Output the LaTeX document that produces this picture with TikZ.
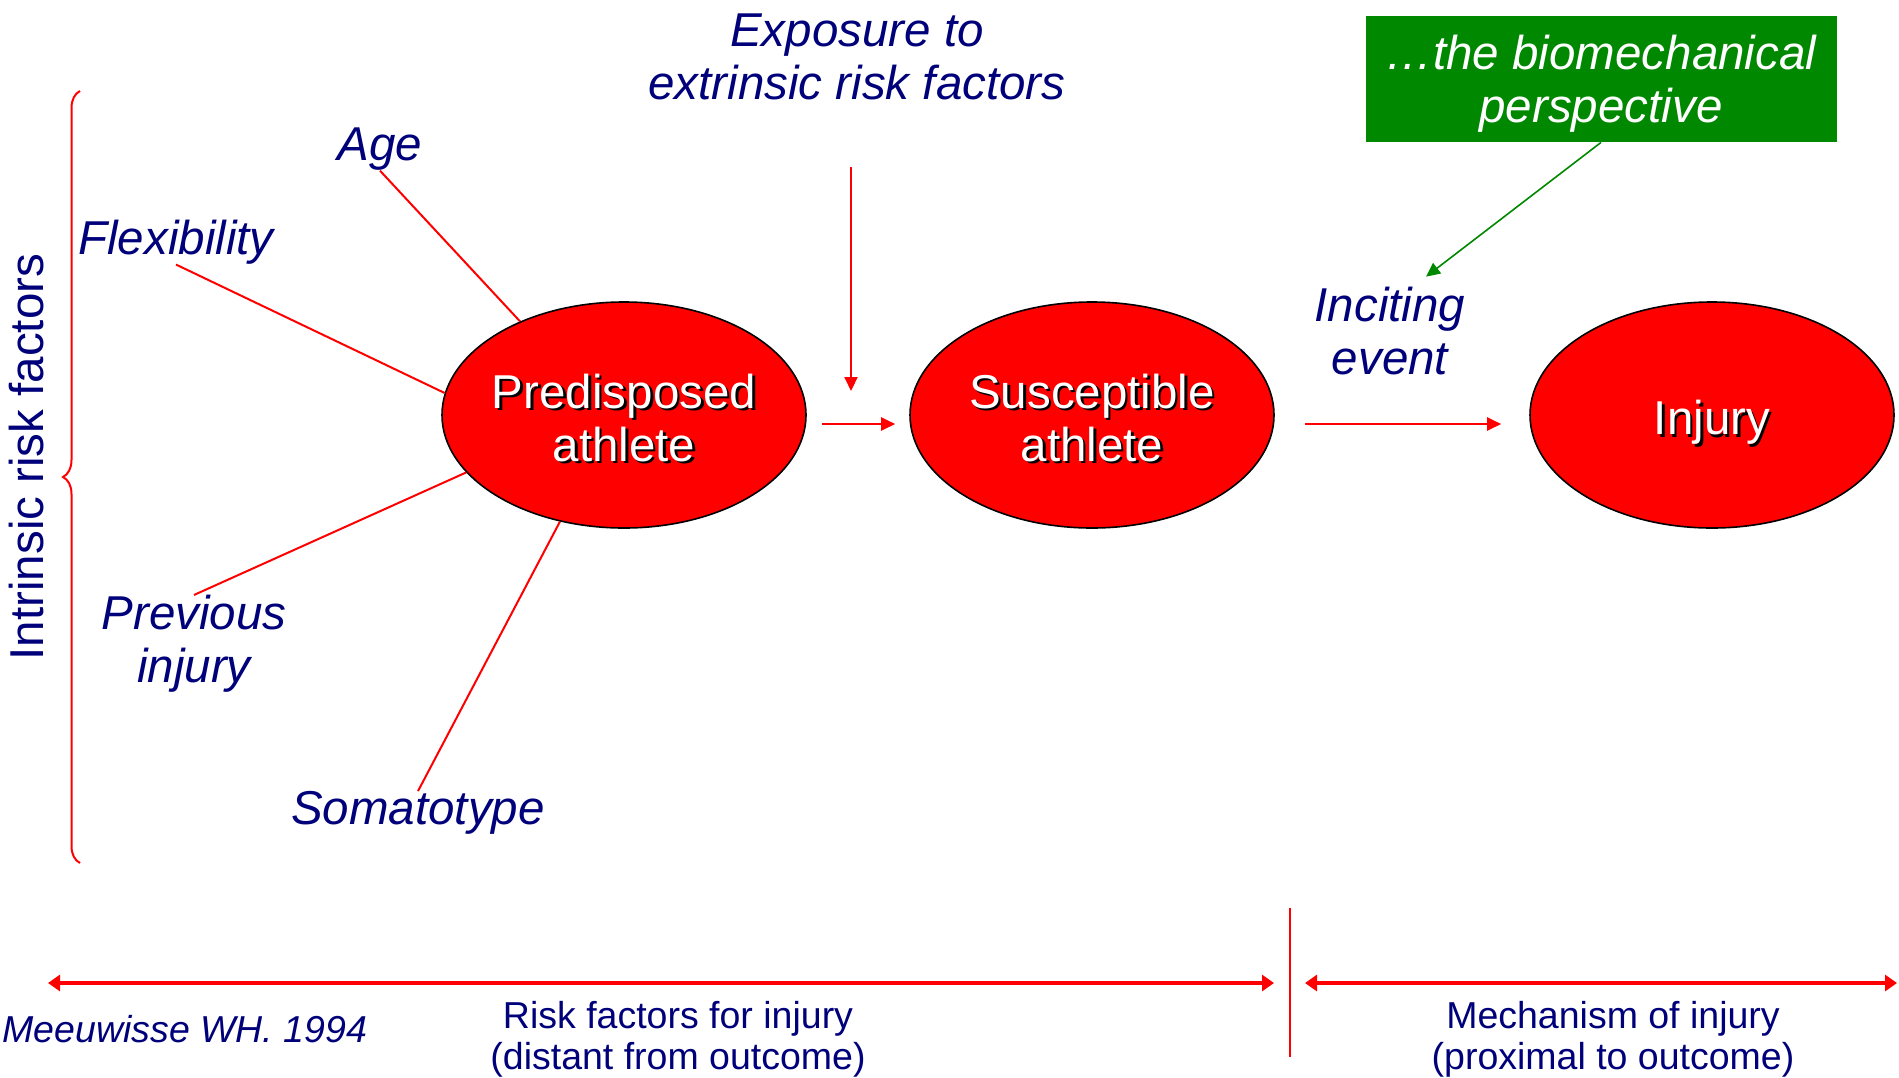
\documentclass[tikz,border=0pt]{standalone}
\usepackage{fontspec}
\setmainfont{Liberation Sans}
\usetikzlibrary{shapes.geometric, arrows.meta, positioning, decorations.pathreplacing}

\definecolor{inkblue}{RGB}{0,0,122}
\definecolor{alarmred}{RGB}{255,0,0}
\definecolor{leafgreen}{RGB}{0,136,0}

\newcommand{\bigtype}{\fontsize{23.75pt}{26.5pt}\selectfont}
\newcommand{\smalltype}{\fontsize{18.75pt}{20.5pt}\selectfont}
\newcommand{\sink}[2][2pt]{\raisebox{-#1}[\height][\depth]{#2}}
\newcommand{\shtext}[2][2pt]{\makebox[0pt]{\sink[#1]{\rlap{\kern1.3pt\raisebox{-1.3pt}{\color{black}#2}}#2}}}

\begin{document}
\begin{tikzpicture}[
    x=0.5pt, y=-0.5pt,
    factor/.style={inner sep=0pt, align=center, text=inkblue, font=\bigtype\itshape},
    caption/.style={inner sep=0pt, align=center, text=inkblue, font=\smalltype},
    athlete/.style={ellipse, draw=black, line width=0.8pt, fill=alarmred, text=white, font=\bigtype, minimum width=182pt, minimum height=113pt, inner sep=0pt, align=center},
    link/.style={draw=alarmred, line width=1pt},
    flow/.style={link, -{Triangle[length=7pt, width=6.5pt]}},
    timeline/.style={draw=alarmred, line width=2pt, {Triangle[length=6pt, width=8pt]}-{Triangle[length=6pt, width=8pt]}}
]
\useasboundingbox (0,0) rectangle (1899,1077);

% Athletes
\node[athlete] (pred) at (624,415) {\shtext{Predisposed}\\\shtext{athlete}};
\node[athlete] (susc) at (1092,415) {\shtext{Susceptible}\\\shtext{athlete}};
\node[athlete] (injury) at (1712,415) {\shtext[4.5pt]{Injury}};

% Intrinsic factors
\node[factor] (age) at (380,149) {Age};
\node[factor] (flex) at (176,242) {Flexibility};
\node[factor] (prev) at (194,644) {Previous\\injury};
\node[factor] (soma) at (418,813) {Somatotype};
\node[caption, font=\bigtype, rotate=90] (intrinsic) at (27,457) {Intrinsic risk factors};
\coordinate (braceB) at (80,863);
\coordinate (braceT) at (80,91);
\draw[alarmred, line width=1pt, decorate, decoration={brace, amplitude=8.5pt}] (braceB) -- (braceT);

\draw[link] (age.south) -- (pred.138);
\draw[link] (flex.south) -- (pred.173);
\draw[link] (prev.north) -- (pred.200);
\draw[link] (soma.north) -- (pred.239);

% Extrinsic and inciting
\node[factor] (exposure) at (857,57) {Exposure to\\extrinsic risk factors};
\coordinate (expTop) at (851,167);
\coordinate (expEnd) at (851,391);
\draw[flow] (expTop) -- (expEnd);

\node[factor] (incite) at (1390,331) {Inciting\\event};
\node[fill=leafgreen, text=white, font=\bigtype\itshape, align=center, inner sep=0pt, minimum width=235.5pt, minimum height=63pt] (bio) at (1601,79) {\sink[2.5pt]{…the biomechanical}\\\sink[2.5pt]{perspective}};
\draw[draw=leafgreen, line width=0.8pt, -{Triangle[length=7pt, width=6.5pt]}] (bio.south) -- ([xshift=18pt, yshift=5pt]incite.north);

% Arrows
\draw[flow, shorten <=7.5pt, shorten >=7pt] ([yshift=-4.5pt]pred.east) -- ([yshift=-4.5pt]susc.west);
\draw[flow, shorten <=15pt, shorten >=14pt] ([yshift=-4.5pt]susc.east) -- ([yshift=-4.5pt]injury.west);

% Time line
\coordinate (riskL) at (48,983);
\coordinate (riskR) at (1274,983);
\coordinate (mechL) at (1305,983);
\coordinate (mechR) at (1897,983);
\coordinate (divT) at (1290,908);
\coordinate (divB) at (1290,1057);
\draw[timeline] (riskL) -- (riskR);
\draw[timeline] (mechL) -- (mechR);
\draw[link] (divT) -- (divB);

\node[caption] (risk) at (678,1039) {Risk factors for injury\\(distant from outcome)};
\node[caption] (mech) at (1613,1039) {Mechanism of injury\\(proximal to outcome)};
\node[caption, font=\smalltype\itshape, anchor=west] (cite) at (2,1029) {Meeuwisse WH. 1994};

\end{tikzpicture}
\end{document}
